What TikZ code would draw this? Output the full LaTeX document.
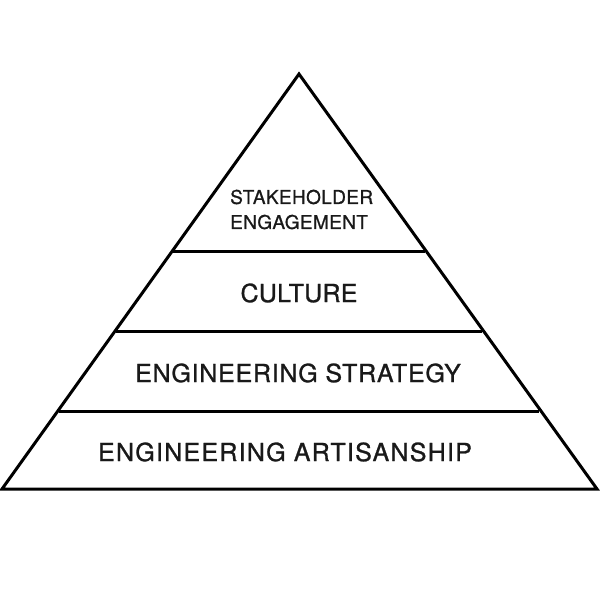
\documentclass[tikz,border=0pt]{standalone}
\usepackage{fontspec}
\setmainfont{TeX Gyre Heros}
\begin{document}
\begin{tikzpicture}[x=1pt,y=-1pt,
  edge/.style={line width=3pt,line join=miter,black},
  lbl/.style={inner sep=0pt,text=black!90}]
\useasboundingbox (0,0) rectangle (600,600);
\coordinate (apex) at (299,74);
\coordinate (bl) at (2,489);
\coordinate (br) at (597,489);
\coordinate (l1) at (173,251);
\coordinate (r1) at (425,251);
\coordinate (l2) at (116,331);
\coordinate (r2) at (482,331);
\coordinate (l3) at (59,411);
\coordinate (r3) at (539,411);
\draw[edge] (apex) -- (br) -- (bl) -- cycle;
\draw[edge] (l1) -- (r1);
\draw[edge] (l2) -- (r2);
\draw[edge] (l3) -- (r3);
\node[lbl,anchor=west] (t1) at (230,197) {\fontsize{19}{22}\selectfont\addfontfeatures{LetterSpace=2,FakeBold=0.9}STAKEHOLDER};
\node[lbl,anchor=west] (t2) at (230,222) {\fontsize{19}{22}\selectfont\addfontfeatures{LetterSpace=2,FakeBold=0.9}ENGAGEMENT};
\node[lbl] (t3) at (299,293) {\fontsize{25}{30}\selectfont\addfontfeatures{LetterSpace=1,FakeBold=1}CULTURE};
\node[lbl] (t4) at (298,373) {\fontsize{25}{30}\selectfont\addfontfeatures{LetterSpace=3,FakeBold=1}ENGINEERING STRATEGY};
\node[lbl] (t5) at (285,452) {\fontsize{25}{30}\selectfont\addfontfeatures{LetterSpace=5,FakeBold=1}ENGINEERING ARTISANSHIP};
\end{tikzpicture}
\end{document}
